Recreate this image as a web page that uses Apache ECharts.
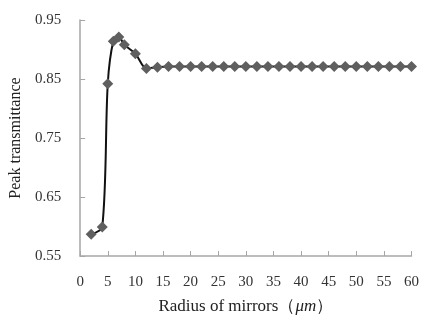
<!DOCTYPE html>
<html>
<head>
<meta charset="utf-8">
<script src="https://cdn.jsdelivr.net/npm/echarts@6/dist/echarts.min.js"></script>
<style>
  html, body { margin: 0; padding: 0; background: #fff; }
  #chart { width: 422px; height: 327px; }
</style>
</head>
<body>
<div id="chart"></div>
<script>
const radius = [2, 4, 5, 6, 7, 8, 10, 12, 14, 16, 18, 20, 22, 24, 26, 28, 30, 32, 34, 36, 38,
  40, 42, 44, 46, 48, 50, 52, 54, 56, 58, 60];
const transmittance = [0.587, 0.599, 0.842, 0.914, 0.921, 0.908, 0.893, 0.868, 0.870, 0.871, 0.871,
  0.871, 0.871, 0.871, 0.871, 0.871, 0.871, 0.871, 0.871, 0.871, 0.871, 0.871, 0.871, 0.871,
  0.871, 0.871, 0.871, 0.871, 0.871, 0.871, 0.871, 0.871];

const font = '"Liberation Serif", "Times New Roman", serif';
const axisGray = '#a6a6a6';

const chart = echarts.init(document.getElementById('chart'));
chart.setOption({
  backgroundColor: '#fff',
  animation: false,
  grid: { left: 80, right: 8, top: 20, bottom: 71 },
  xAxis: {
    type: 'value',
    min: 0,
    max: 60,
    interval: 5,
    name: 'Radius of mirrors（{i|μm}）',
    nameLocation: 'middle',
    nameGap: 42,
    nameTextStyle: {
      fontFamily: font, fontSize: 17, color: '#222',
      rich: { i: { fontFamily: font, fontSize: 17, fontStyle: 'italic', color: '#222' } }
    },
    axisLine: { lineStyle: { color: axisGray, width: 1.5 } },
    axisTick: { inside: true, length: 5, lineStyle: { color: axisGray } },
    axisLabel: { fontFamily: font, fontSize: 15, color: '#333', margin: 19 },
    splitLine: { show: false }
  },
  yAxis: {
    type: 'value',
    min: 0.55,
    max: 0.95,
    interval: 0.1,
    name: 'Peak transmittance',
    nameLocation: 'middle',
    nameGap: 56,
    nameTextStyle: { fontFamily: font, fontSize: 16, color: '#222' },
    axisLine: { show: true, lineStyle: { color: axisGray, width: 1.5 } },
    axisTick: { show: true, inside: true, length: 5, lineStyle: { color: axisGray } },
    axisLabel: {
      fontFamily: font, fontSize: 15, color: '#333', margin: 19,
      formatter: (v) => v.toFixed(2)
    },
    splitLine: { show: false }
  },
  series: [{
    type: 'line',
    data: radius.map((r, i) => [r, transmittance[i]]),
    smooth: 0.3,
    symbol: 'diamond',
    symbolSize: 11,
    itemStyle: { color: '#5f5f5f' },
    lineStyle: { color: '#111', width: 2 }
  }]
});
</script>
</body>
</html>
